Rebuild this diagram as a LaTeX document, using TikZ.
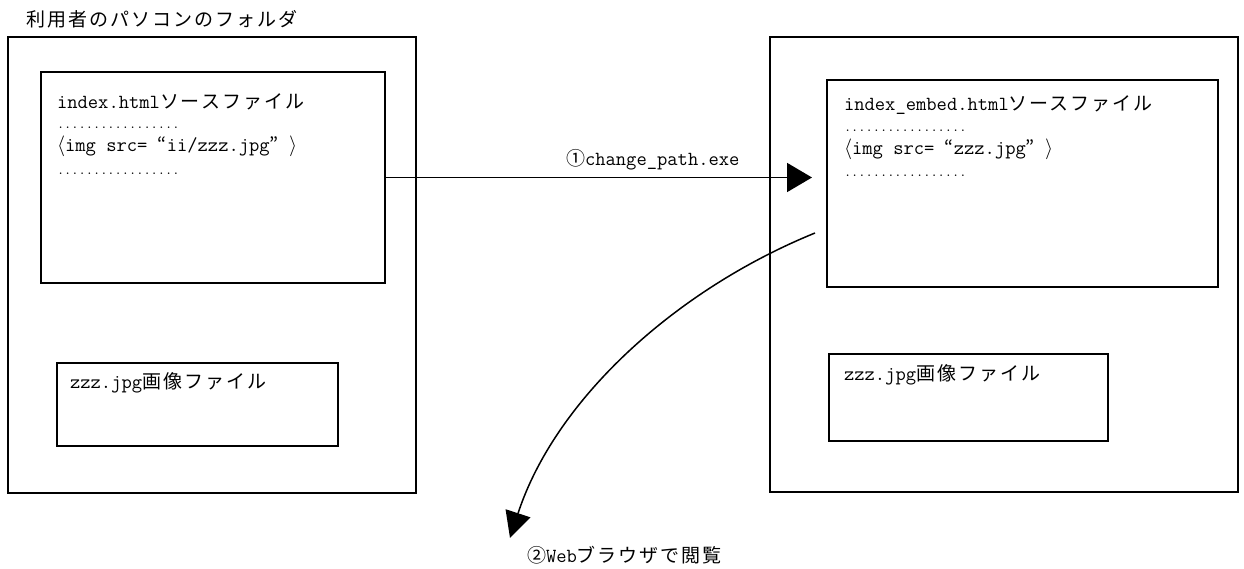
\documentclass[tikz,border=0pt]{standalone}
\usepackage{fontspec}
\newfontfamily\jpfam{Noto Sans CJK JP}[LetterSpace=10.5]
\newfontfamily\latfam{Latin Modern Mono}
\usetikzlibrary{arrows.meta}
\newcommand\myjp[1]{{\jpfam\fontsize{19}{19}\selectfont #1}}
\newcommand\mylat[1]{{\latfam\fontsize{20}{20}\selectfont #1}}
\newcommand\mydots{{\latfam\fontsize{14}{14}\selectfont .................}}
\tikzset{
  box/.style={draw=black, line width=1.8pt, inner sep=0pt, outer sep=0pt},
  txt/.style={anchor=base west, inner sep=0pt, outer sep=0pt},
  conn/.style={draw=black, line width=1.8pt},
}
\begin{document}
\begin{tikzpicture}[x=1pt,y=-1pt]
\useasboundingbox (0,0) rectangle (1244,569);
% title
\node[txt] (title) at (27,27) {\myjp{利用者のパソコンのフォルダ}};
% left folder
\node[box, minimum width=408pt, minimum height=456pt] (LO) at (212,265) {};
\node[box, minimum width=344pt, minimum height=211pt] (LI) at (213,177.5) {};
\node[box, minimum width=281pt, minimum height=83pt] (LJ) at (197.5,404.5) {};
\node[txt] (lt1) at (57,109) {\mylat{index.html}\myjp{ソースファイル}};
\node[txt] (ld1) at (57,129) {\mydots};
\node[txt] (lt3) at (57,152) {\mylat{$\langle$img src= }\myjp{“}\mylat{ii/zzz.jpg}\myjp{”}\mylat{ $\rangle$}};
\node[txt] (ld2) at (57,175) {\mydots};
\node[txt] (ljt) at (70,388) {\mylat{zzz.jpg}\myjp{画像ファイル}};
% right folder
\node[box, minimum width=468pt, minimum height=455pt] (RO) at (1004,264.5) {};
\node[box, minimum width=391pt, minimum height=207pt] (RI) at (1022.5,183.5) {};
\node[box, minimum width=279pt, minimum height=87pt] (RJ) at (968.5,397.5) {};
\node[txt] (rt1) at (844,111) {\mylat{index\_embed.html}\myjp{ソースファイル}};
\node[txt] (rd1) at (844,132) {\mydots};
\node[txt] (rt3) at (844,155) {\mylat{$\langle$img src= }\myjp{“}\mylat{zzz.jpg}\myjp{”}\mylat{ $\rangle$}};
\node[txt] (rd2) at (844,177) {\mydots};
\node[txt] (rjt) at (844,380) {\mylat{zzz.jpg}\myjp{画像ファイル}};
% arrow 1
\coordinate (a1e) at (812,177.5);
\draw[conn, -{Triangle[length=25pt,width=29pt]}] (LI.east) -- (a1e);
\node[txt] (lab1) at (566,166) {\myjp{①}\mylat{change\_path.exe}};
% arrow 2
\coordinate (a2s) at (815,233);
\coordinate (a2e) at (510,538);
\draw[conn, line width=1.5pt, -{Triangle[length=26pt,width=26pt]}] (a2s) .. controls (675,290) and (555,400) .. (a2e);
\node[txt] (lab2) at (527,562) {\myjp{②}\mylat{Web}\myjp{ブラウザで閲覧}};
\end{tikzpicture}
\end{document}
